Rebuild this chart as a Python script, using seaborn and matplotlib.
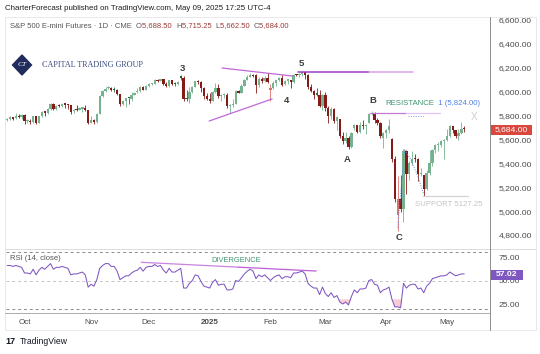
import numpy as np
import pandas as pd
import matplotlib
matplotlib.use("Agg")
import matplotlib.pyplot as plt
import seaborn as sns
from matplotlib.patches import Polygon, Rectangle
from matplotlib.lines import Line2D

# ES1! daily bars, 23 Sep 2024 - 9 May 2025
trade_days = pd.bdate_range("2024-09-23", "2025-05-09")
cme_holidays = pd.to_datetime(["2024-11-28", "2024-12-25", "2025-01-01",
                               "2025-01-20", "2025-02-17", "2025-04-18"])
trade_days = trade_days[~trade_days.isin(cme_holidays)]

opens = [5762, 5771, 5786, 5776, 5799, 5788, 5806, 5752, 5757, 5745,
         5796, 5740, 5792, 5834, 5819, 5856, 5898, 5851, 5882, 5877,
         5901, 5889, 5887, 5834, 5848, 5850, 5858, 5866, 5846, 5740,
         5762, 5745, 5815, 5960, 6005, 6027, 6032, 6016, 6016, 5978,
         5898, 5920, 5944, 5942, 5972, 5995, 6008, 6040, 6016, 6050,
         6064, 6068, 6100, 6088, 6102, 6065, 6045, 6094, 6060, 6060,
         6135, 6118, 5940, 5935, 5996, 6040, 6085, 6082, 6030, 5965,
         5940, 5925, 5997, 6030, 5962, 5970, 5972, 5880, 5890, 5898,
         6005, 5990, 6050, 6100, 6125, 6140, 6140, 6055, 6110, 6085,
         6115, 6010, 6030, 6075, 6096, 6118, 6060, 6092, 6095, 6078,
         6140, 6137, 6148, 6162, 6138, 6035, 6003, 5975, 5975, 5878,
         5975, 5865, 5795, 5858, 5755, 5770, 5630, 5585, 5612, 5535,
         5695, 5720, 5665, 5722, 5712, 5740, 5815, 5822, 5760, 5740,
         5610, 5655, 5675, 5600, 5440, 4970, 5100, 5020, 5500, 5310,
         5400, 5440, 5435, 5310, 5300, 5185, 5315, 5400, 5515, 5550,
         5555, 5585, 5595, 5625, 5712, 5675, 5630, 5655, 5688.5]
highs = [5782, 5792, 5790, 5818, 5812, 5810, 5812, 5770, 5768, 5800,
         5800, 5800, 5838, 5836, 5860, 5905, 5905, 5885, 5900, 5908,
         5903, 5895, 5892, 5852, 5885, 5870, 5875, 5885, 5850, 5800,
         5775, 5820, 5975, 6012, 6035, 6050, 6040, 6035, 6025, 5980,
         5930, 5950, 5950, 5995, 6000, 6030, 6045, 6045, 6055, 6070,
         6072, 6105, 6104, 6110, 6108, 6080, 6100, 6098, 6080, 6090,
         6140, 6135, 6010, 6040, 6045, 6090, 6095, 6085, 6035, 5990,
         5990, 6005, 6075, 6060, 5980, 5985, 5985, 5895, 5935, 6010,
         6015, 6068, 6105, 6140, 6158, 6150, 6145, 6120, 6120, 6130,
         6160, 6065, 6085, 6100, 6125, 6140, 6100, 6100, 6100, 6145,
         6150, 6155, 6166, 6165, 6145, 6065, 6010, 6030, 6010, 5980,
         5995, 5880, 5870, 5860, 5800, 5775, 5665, 5660, 5630, 5660,
         5730, 5722, 5750, 5760, 5725, 5820, 5836, 5830, 5780, 5745,
         5665, 5690, 5770, 5610, 5460, 5290, 5300, 5520, 5510, 5420,
         5500, 5480, 5445, 5360, 5305, 5340, 5510, 5520, 5560, 5580,
         5595, 5600, 5690, 5720, 5715, 5680, 5690, 5750, 5715.25]
lows = [5755, 5760, 5765, 5770, 5778, 5770, 5730, 5735, 5725, 5740,
        5730, 5735, 5785, 5800, 5812, 5850, 5845, 5845, 5870, 5872,
        5865, 5858, 5812, 5825, 5835, 5848, 5830, 5840, 5732, 5735,
        5728, 5740, 5810, 5955, 6000, 6020, 6005, 6000, 5970, 5880,
        5890, 5870, 5900, 5925, 5968, 5990, 6000, 6010, 6012, 6040,
        6055, 6065, 6082, 6085, 6058, 6040, 6040, 6058, 6045, 6055,
        6100, 5925, 5925, 5905, 5985, 6038, 6065, 6000, 5940, 5930,
        5905, 5920, 5990, 5945, 5925, 5950, 5860, 5825, 5875, 5895,
        5985, 5988, 6045, 6095, 6120, 6120, 5990, 6040, 6070, 6080,
        6075, 5925, 6020, 6050, 6090, 6045, 6055, 6065, 6030, 6075,
        6130, 6125, 6135, 6105, 6025, 5995, 5940, 5960, 5870, 5850,
        5840, 5740, 5775, 5740, 5680, 5615, 5560, 5570, 5520, 5530,
        5680, 5650, 5655, 5690, 5645, 5735, 5805, 5740, 5720, 5615,
        5525, 5610, 5650, 5415, 5080, 4832, 4990, 4910, 5140, 5260,
        5390, 5410, 5250, 5290, 5127.25, 5180, 5300, 5380, 5490, 5505,
        5535, 5440, 5590, 5620, 5650, 5610, 5595, 5645, 5662.5]
closes = [5770, 5784, 5775, 5797, 5790, 5805, 5754, 5755, 5744, 5795,
          5738, 5792, 5832, 5820, 5855, 5897, 5853, 5880, 5878, 5900,
          5890, 5888, 5833, 5845, 5843, 5858, 5866, 5847, 5738, 5760,
          5745, 5815, 5960, 6005, 6025, 6032, 6015, 6015, 5978, 5900,
          5920, 5943, 5943, 5972, 5990, 6007, 6040, 6015, 6050, 6065,
          6068, 6100, 6088, 6102, 6065, 6045, 6094, 6060, 6060, 6080,
          6117, 5935, 5935, 5996, 6040, 6085, 6082, 6030, 5965, 5940,
          5925, 5997, 6030, 5962, 5970, 5972, 5880, 5890, 5898, 6005,
          5990, 6050, 6100, 6125, 6140, 6128, 6055, 6110, 6085, 6115,
          6082, 6030, 6075, 6096, 6118, 6055, 6092, 6095, 6078, 6140,
          6137, 6148, 6162, 6138, 6035, 6003, 5975, 5975, 5878, 5975,
          5865, 5795, 5858, 5755, 5785, 5630, 5585, 5612, 5535, 5652,
          5720, 5665, 5722, 5712, 5715, 5815, 5822, 5760, 5740, 5625,
          5655, 5675, 5715, 5440, 5105, 5100, 5020, 5500, 5310, 5400,
          5440, 5435, 5310, 5315, 5185, 5315, 5400, 5515, 5550, 5555,
          5585, 5595, 5625, 5712, 5675, 5630, 5655, 5685, 5684]
rsi = [66, 66, 65, 66, 65, 64, 58, 58, 57, 62,
       56, 61, 64, 62, 65, 68, 62, 64, 64, 65,
       64, 63, 56, 57, 57, 58, 59, 56, 43, 46,
       44, 51, 63, 66, 68, 68, 65, 65, 60, 51,
       53, 55, 55, 58, 60, 61, 64, 60, 64, 65,
       65, 67, 65, 66, 61, 58, 63, 59, 59, 61,
       63, 42, 42, 47, 50, 56, 55, 49, 44, 43,
       42, 48, 51, 45, 46, 46, 40, 40, 41, 50,
       49, 53, 57, 60, 62, 60, 52, 56, 54, 56,
       53, 50, 53, 55, 56, 52, 54, 54, 53, 58,
       58, 59, 60, 57, 47, 44, 42, 42, 35, 43,
       36, 33, 37, 32, 34, 27, 25, 27, 24, 33,
       40, 37, 41, 41, 42, 50, 51, 46, 45, 37,
       40, 41, 43, 30, 22, 22, 21, 47, 42, 45,
       46, 46, 41, 42, 37, 44, 47, 52, 53, 54,
       55, 55, 56, 59, 57, 55, 56, 57, 57.02]

month_labels = ["Oct", "Nov", "Dec", "2025", "Feb", "Mar", "Apr", "May"]
price_ticks = [4800, 5000, 5200, 5400, 5600, 5800, 6000, 6200, 6400, 6600]
rsi_ticks = [25, 50, 75]
last_close = 5684.00
last_rsi = 57.02
resistance = 5824.00
support = 5127.25

df = pd.DataFrame({"date": trade_days, "open": opens, "high": highs,
                   "low": lows, "close": closes, "rsi": rsi})
df["i"] = np.arange(len(df))

W, H = 540, 354
def fx(x): return x / W
def fy(y): return 1 - y / H

sns.set_theme(style="white")
plt.rcParams["font.family"] = ["Liberation Sans", "DejaVu Sans"]

fig = plt.figure(figsize=(5.4, 3.54), dpi=100)
fig.patch.set_facecolor("white")
ax = fig.add_axes([fx(6), fy(248), fx(490) - fx(6), (248 - 17) / H])
ax_r = fig.add_axes([fx(6), fy(312), fx(490) - fx(6), (312 - 248) / H])
for a in (ax, ax_r):
    a.set_facecolor("white")
    for s in a.spines.values():
        s.set_visible(False)
    a.set_xlim(-0.4, 166.9)

# hollow candles: hue from previous close, fill from open/close
DG, LG, DR, LR = "#236640", "#76b28f", "#861a16", "#d9716d"
prev = df["close"].shift(1).fillna(df["open"])
up = df["close"] >= prev
hollow = df["close"] > df["open"]
cols = np.where(up, np.where(hollow, LG, DG), np.where(hollow, LR, DR))
body_lo = np.minimum(df["open"], df["close"])
body_h = np.maximum((df["close"] - df["open"]).abs(), 10)
ax.vlines(df["i"], df["low"], df["high"], colors=cols, lw=0.6, zorder=2)
ax.bar(df["i"], body_h, bottom=body_lo, width=0.8, color=cols, lw=0, zorder=3)
ax.set_ylim(4691, 6625)
ax.set_xticks([])
ax.yaxis.tick_right()
ax.set_yticks(price_ticks)
ax.set_yticklabels([f"{v:,.2f}" for v in price_ticks])
ax.tick_params(axis="y", length=0, pad=6, labelsize=6.1, labelcolor="#4a4a4a")

# drawings on the price pane
purple = "#b54ed3"
ax.plot([74.3, 98.5], [6198, 6131], color=purple, lw=0.9, alpha=0.85, zorder=4)
ax.plot([69.8, 91.6], [5754, 5939], color=purple, lw=0.9, alpha=0.85, zorder=4)
ax.plot([100.6, 125], [6165, 6165], color="#a03cc4", lw=1.1, zorder=4)
ax.plot([125, 140.3], [6165, 6165], color="#d9a3e6", lw=1.1, zorder=4)
ax.plot([125.4, 138], [resistance, resistance], color="#c27ad6", lw=0.9, zorder=4)
ax.plot([138, 149.6], [resistance, resistance], color="#e6c2ee", lw=0.9, zorder=4)
ax.plot([138.6, 144.4], [5800, 5800], color="#7ea3ee", lw=0.7, ls=(0, (1, 1.5)), zorder=4)
ax.plot([135, 137.3, 139.5, 142, 144], [4860, 5520, 5430, 5290, 5140],
        color="#5b8def", lw=0.7, ls=(0, (1, 1.5)), zorder=5)
ax.plot([143.8, 159.3], [support, support], color="#d3d3d3", lw=0.9, zorder=4)

wave_text = {"3": (60.5, 6198), "4": (96.4, 5922), "5": (101.6, 6232),
             "A": (117.5, 5428), "B": (126.5, 5930), "C": (135.5, 4775)}
for lab, (xi, yi) in wave_text.items():
    ax.text(xi, yi, lab, fontsize=6.8, fontweight="bold", color="#3c3c3c",
            ha="center", va="center", zorder=6)

t = ax.text(130.6, 5897, "RESISTANCE", fontsize=5.6, color="#3f9470", va="center")
ax.annotate("  1 (5,824.00)", xy=(1, 0), xycoords=t, va="bottom",
            fontsize=5.6, color="#4c80e6")
ax.text(141, 5058, "SUPPORT 5127.25", fontsize=5.6, color="#c4c4c4", va="center")
ax.text(161.4, 5788, "X", fontsize=7, color="#cfcfcf", ha="center", va="center")

# logo
fig.add_artist(Polygon([(fx(22), fy(55)), (fx(31.5), fy(65)), (fx(22), fy(75)), (fx(12.5), fy(65))],
                       closed=True, transform=fig.transFigure, color="#1f2c5c"))
fig.text(fx(22), fy(65), "CT", fontsize=5.4, color="white", ha="center", va="center",
         family=["Liberation Serif", "DejaVu Serif"], style="italic")
fig.text(fx(42), fy(65), "CAPITAL TRADING GROUP", fontsize=5.9, color="#3c4a7d",
         va="center", family=["Liberation Serif", "DejaVu Serif"])

# RSI pane
sns.lineplot(x=df["i"], y=df["rsi"], ax=ax_r, color="#7e57c2", lw=0.75, zorder=3)
rv = df["rsi"].to_numpy(dtype=float)
ax_r.fill_between(df["i"], rv, 30, where=rv < 30, interpolate=True,
                  color="#f6c3cd", alpha=0.85, lw=0, zorder=2)
ax_r.axhline(80, color="#8a8a8a", lw=0.7, ls=(0, (3, 3)))
ax_r.axhline(50, color="#c4c4c4", lw=0.7, ls=(0, (3, 3)))
ax_r.axhline(20, color="#8a8a8a", lw=0.7, ls=(0, (3, 3)))
ax_r.plot([46.3, 80], [69.4, 64.2], color="#b54ed3", lw=0.9, alpha=0.7, zorder=4)
ax_r.plot([80, 106.8], [64.2, 60.1], color="#b54ed3", lw=0.9, alpha=0.9, zorder=4)
ax_r.text(79.2, 71.3, "DIVERGENCE", fontsize=5.4, color="#3f9470", ha="center", va="center")
ax_r.set_ylim(16.5, 84.6)
ax_r.set_xlabel("")
ax_r.set_ylabel("")
ax_r.yaxis.tick_right()
ax_r.set_yticks(rsi_ticks)
ax_r.set_yticklabels([f"{v:.2f}" for v in rsi_ticks])
ax_r.tick_params(axis="y", length=0, pad=6, labelsize=6.1, labelcolor="#4a4a4a")
month_first = df.groupby(df["date"].dt.to_period("M"))["i"].first().to_numpy()[1:]
ax_r.set_xticks(month_first)
ax_r.set_xticklabels(month_labels)
ax_r.tick_params(axis="x", length=0, pad=5, labelsize=5.8, labelcolor="#4a4a4a")
for lbl in ax_r.get_xticklabels():
    if lbl.get_text() == "2025":
        lbl.set_fontweight("bold")

# frame and separators
def hline(y, x0, x1, c, lw=0.6):
    fig.add_artist(Line2D([fx(x0), fx(x1)], [fy(y), fy(y)], transform=fig.transFigure, color=c, lw=lw))
def vline(x, y0, y1, c, lw=0.6):
    fig.add_artist(Line2D([fx(x), fx(x)], [fy(y0), fy(y1)], transform=fig.transFigure, color=c, lw=lw))
hline(17, 5, 536, "#e3e5ea")
hline(330, 5, 536, "#e3e5ea")
vline(5, 17, 330, "#e3e5ea")
vline(536, 17, 330, "#e3e5ea")
hline(248.5, 5, 536, "#d6d6d6")
hline(312.5, 5, 490, "#9d9d9d")
vline(490, 17, 330, "#8c8c8c", lw=0.7)

# last value tags
fig.add_artist(Rectangle((fx(490.5), fy(134.5)), fx(532) - fx(490.5), 10 / H,
                         transform=fig.transFigure, color="#d9473d", lw=0))
fig.text(fx(511), fy(129.5), f"{last_close:,.2f}", fontsize=6.1, color="white",
         ha="center", va="center")
fig.add_artist(Rectangle((fx(490.5), fy(279.5)), fx(523) - fx(490.5), 10 / H,
                         transform=fig.transFigure, color="#7e57c2", lw=0))
fig.text(fx(507), fy(274.5), f"{last_rsi:.2f}", fontsize=6.1, color="white",
         ha="center", va="center", fontweight="bold")

# header texts
fig.text(fx(5), fy(8), "CharterForecast published on TradingView.com, May 09, 2025 17:25 UTC-4",
         fontsize=5.7, color="#1e1e1e", va="center")
t = fig.text(fx(10), fy(26), "S&P 500 E-mini Futures · 1D · CME  ", fontsize=5.5,
             color="#555555", va="center")
for letter, val in [("O", "5,688.50"), ("H", "5,715.25"), ("L", "5,662.50"), ("C", "5,684.00")]:
    t = ax.annotate(letter, xy=(1, 0), xycoords=t, va="bottom", fontsize=5.5, color="#555555")
    t = ax.annotate(val + "  ", xy=(1, 0), xycoords=t, va="bottom", fontsize=5.5, color="#9b3a36")
t = fig.text(fx(10), fy(259), "RSI (14, close)  ", fontsize=5.5, color="#555555", va="center")
ax.annotate(f"{last_rsi:.2f}", xy=(1, 0), xycoords=t, va="bottom", fontsize=5.5, color="#7e57c2")

# TradingView footer
fig.text(fx(5), fy(342), "17", fontsize=6.5, fontweight="bold", color="#131722", va="center")
fig.text(fx(20), fy(342), "TradingView", fontsize=6.2, color="#131722", va="center")

fig.savefig("out.png", dpi=100)
